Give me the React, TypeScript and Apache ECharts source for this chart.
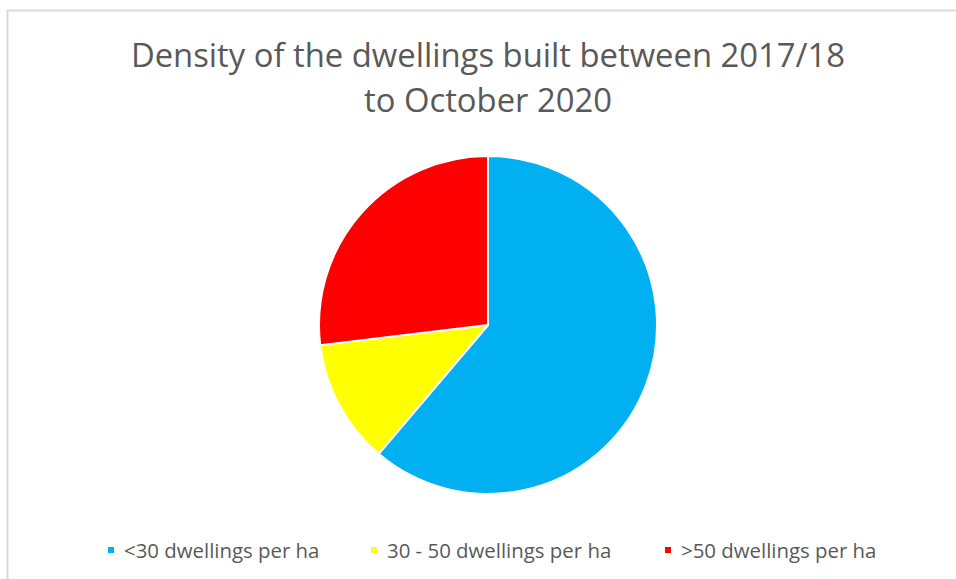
import React, { useEffect, useRef } from "react";
import * as echarts from "echarts";

const titleLines = ["Density of the dwellings built between 2017/18", "to October 2020"];
const categories = ["<30 dwellings per ha", "30 - 50 dwellings per ha", ">50 dwellings per ha"];
const shares = [61.2, 11.9, 26.9];
const colors = ["#00B0F0", "#FFFF00", "#FF0000"];
const legendLeft = [106, 369, 663];

const FONT = "'Open Sans', sans-serif";

export default function App() {
  const ref = useRef<HTMLDivElement>(null);
  useEffect(() => {
    if (!ref.current) return;
    const chart = echarts.init(ref.current, undefined, { renderer: "svg" });
    chart.setOption({
      animation: false,
      backgroundColor: "#ffffff",
      title: {
        text: titleLines.join("\n"),
        left: 488,
        textAlign: "center",
        top: 32,
        padding: 0,
        textStyle: {
          fontFamily: FONT,
          fontSize: 32.8,
          fontWeight: "normal",
          color: "#595959",
          lineHeight: 45,
        },
      },
      graphic: [
        {
          type: "rect",
          shape: { x: 7.5, y: 10.5, width: 1000, height: 700 },
          style: { fill: "none", stroke: "#d9d9d9", lineWidth: 2 },
          silent: true,
          z: -10,
        },
      ],
      legend: categories.map((c, i) => ({
        data: [c],
        left: legendLeft[i],
        top: 540,
        padding: 0,
        orient: "horizontal",
        icon: "rect",
        itemWidth: 8,
        itemHeight: 8,
        itemGap: 0,
        selectedMode: false,
        textStyle: {
          fontFamily: FONT,
          fontSize: 20.4,
          color: "#595959",
          padding: [0, 0, 0, 4],
        },
      })),
      series: [
        {
          type: "pie",
          center: [488, 325],
          radius: 169,
          startAngle: 90,
          clockwise: true,
          label: { show: false },
          labelLine: { show: false },
          emphasis: { disabled: true },
          itemStyle: { borderColor: "#ffffff", borderWidth: 2 },
          data: categories.map((c, i) => ({
            name: c,
            value: shares[i],
            itemStyle: { color: colors[i] },
          })),
        },
      ],
    });
    return () => chart.dispose();
  }, []);
  return (
    <div
      ref={ref}
      style={{ position: "fixed", left: 0, top: 0, width: 956, height: 579 }}
    />
  );
}
